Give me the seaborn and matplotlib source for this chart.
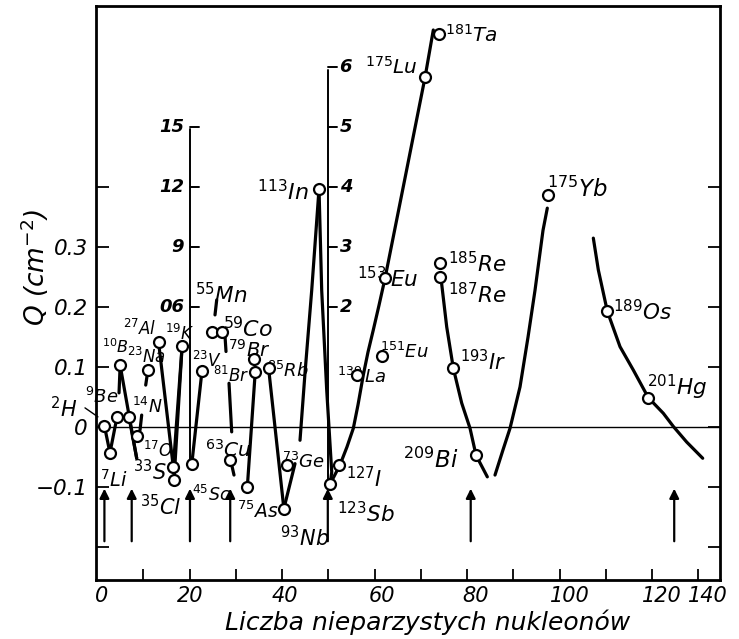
import matplotlib
matplotlib.use("Agg")
import matplotlib.pyplot as plt
import seaborn as sns
import pandas as pd
import numpy as np

# isotopes drawn as open circles: mass number, symbol, odd nucleons (as drawn), Q
iso_mass = ["2", "7", "9", "10", "14", "17", "23", "27", "33", "35", "19", "45", "23",
            "55", "59", "63", "75", "79", "81", "85", "73", "93", "113", "123", "127",
            "139", "151", "153", "175", "181", "185", "187", "193", "209", "175", "189", "201"]
iso_sym = ["H", "Li", "Be", "B", "N", "O", "Na", "Al", "S", "Cl", "K", "Sc", "V",
           "Mn", "Co", "Cu", "As", "Br", "Br", "Rb", "Ge", "Nb", "In", "Sb", "I",
           "La", "Eu", "Eu", "Lu", "Ta", "Re", "Re", "Ir", "Bi", "Yb", "Os", "Hg"]
iso_n = [1.6, 2.8, 4.3, 5.0, 6.9, 8.6, 11.0, 13.3, 16.5, 16.65, 18.4, 20.5, 22.7,
         24.8, 27.0, 28.8, 32.5, 34.05, 34.2, 37.1, 41.0, 40.4, 48.0, 50.4, 52.4,
         56.3, 61.6, 62.3, 70.9, 74.0, 74.2, 74.2, 77.0, 82.0, 97.5, 110.3, 119.1]
iso_q = [0.002, -0.043, 0.016, 0.103, 0.017, -0.015, 0.095, 0.142, -0.067, -0.088, 0.135, -0.061, 0.094,
         0.159, 0.159, -0.055, -0.100, 0.113, 0.091, 0.098, -0.063, -0.136, 0.397, -0.095, -0.063,
         0.086, 0.118, 0.248, 0.583, 0.655, 0.273, 0.250, 0.098, -0.047, 0.387, 0.193, 0.048]

# hand-drawn connecting curves (odd nucleons, Q)
curves = {
    "H-Li-Be": ([1.6, 2.8, 4.3], [0.002, -0.043, 0.016]),
    "B-stub": ([5.0, 4.76], [0.103, 0.057]),
    "B-O": ([5.0, 8.58], [0.103, -0.052]),
    "N-O": ([6.9, 8.58], [0.017, -0.052]),
    "N-stub": ([9.66, 9.30], [0.020, -0.005]),
    "Na-stub": ([11.0, 10.53], [0.095, 0.070]),
    "Al-S": ([13.3, 16.5], [0.142, -0.067]),
    "K-S": ([18.4, 16.5], [0.135, -0.067]),
    "K-Cl": ([18.4, 16.65], [0.135, -0.088]),
    "V-Sc": ([22.7, 20.5], [0.094, -0.061]),
    "Mn-stub": ([25.88, 25.51], [0.212, 0.187]),
    "Co-stub": ([27.68, 27.89], [0.151, 0.126]),
    "Br-stub": ([28.54, 29.12], [0.073, -0.008]),
    "Cu-stub": ([29.12, 29.62], [-0.063, -0.080]),
    "Br-As": ([34.2, 32.5], [0.091, -0.100]),
    "Rb-Nb": ([37.1, 40.4], [0.098, -0.136]),
    "Nb-Ge": ([40.4, 42.81], [-0.136, -0.061]),
    "In-left": ([48.0, 46.42, 44.97, 43.89], [0.397, 0.228, 0.090, -0.022]),
    "In-right": ([48.0, 48.58, 49.66, 50.75, 50.4], [0.397, 0.228, 0.062, -0.075, -0.095]),
    "Sb-Ta": ([50.4, 52.54, 54.05, 55.42, 56.43, 57.58, 58.59, 59.74, 60.97, 62.27, 66.59, 70.92, 72.71],
              [-0.095, -0.063, -0.033, -0.002, 0.037, 0.087, 0.125, 0.162, 0.203, 0.248, 0.415, 0.583, 0.662]),
    "Re-Bi": ([74.38, 75.61, 77.04, 78.85, 80.65, 81.95, 84.39],
              [0.248, 0.167, 0.098, 0.040, -0.002, -0.047, -0.083]),
    "Yb": ([86.05, 87.78, 89.30, 91.46, 93.19, 94.70, 96.43, 97.36],
           [-0.080, -0.038, -0.002, 0.067, 0.150, 0.228, 0.328, 0.365]),
    "Os-Hg": ([107.31, 108.39, 110.34, 113.08, 115.96, 119.20, 122.44, 124.61, 127.50, 130.96],
              [0.315, 0.262, 0.193, 0.134, 0.095, 0.049, 0.023, 0.001, -0.025, -0.052]),
}

# auxiliary scales drawn inside the plot
inset1_x, inset1_bottom, inset1_top = 20.1, -0.061, 0.497
inset1_levels = [0.2, 0.3, 0.4, 0.5]
inset1_labels = ["06", "9", "12", "15"]
inset2_x, inset2_bottom, inset2_top = 49.95, -0.095, 0.595
inset2_levels = [0.2, 0.3, 0.4, 0.5, 0.6]
inset2_labels = ["2", "3", "4", "5", "6"]

# magic numbers (arrows)
magic_n = [1.6, 7.5, 20.1, 28.8, 49.9, 80.8, 124.8]

xtick_pos = [0.9, 20.1, 40.6, 61.6, 81.9, 102.3, 122.2, 132.1]
xtick_lab = ["0", "20", "40", "60", "80", "100", "120", "140"]
ytick_vals = [-0.1, 0, 0.1, 0.2, 0.3]
ytick_lab = ["\u22120.1", "0", "0.1", "0.2", "0.3"]

# label placement (pixel offsets of text left/baseline from the circle) and size
lab_off = [(-54, 9), (-10, -34), (-32, 14), (-18, 12), (3, 4), (6, -21), (-21, 7), (-36, 7),
           (-40, -13), (-34, -35), (-17, 6), (0, -37), (-10, 4), (-17, 29), (1, -5), (-25, 3),
           (-10, -31), (-26, 2), (-42, -10), (-2, -9), (-5, -3), (-4, -38), (-62, -11), (7, -38),
           (7, -22), (-20, -8), (-2, -2), (-28, -9), (-60, 4), (6, -8), (8, -9), (8, -26),
           (7, -2), (-73, -13), (-1, -2), (6, -9), (-1, 3)]
lab_size = [15, 14, 13, 11.5, 12.5, 12, 12, 12, 15, 15, 12, 12.5, 12,
            15.5, 16, 14.5, 13.5, 14, 12, 13, 13, 15, 16, 15.5, 15,
            13, 13, 15.5, 14.5, 14.5, 15.5, 15.5, 15, 16.5, 16.5, 15.5, 15.5]

sns.set_theme(style="white")
plt.rcParams["font.family"] = ["DejaVu Sans"]
plt.rcParams["mathtext.fontset"] = "dejavusans"
plt.rcParams["mathtext.default"] = "it"
for key in ("text.color", "axes.labelcolor", "xtick.color", "ytick.color"):
    plt.rcParams[key] = "black"

fig = plt.figure(figsize=(7.39, 6.39), dpi=100)
ax = fig.add_axes([0.1299, 0.0923, 0.8444, 0.8983])

rows = []
for name, (xs, ys) in curves.items():
    for xv, yv in zip(xs, ys):
        rows.append({"seg": name, "n": xv, "q": yv})
curve_df = pd.DataFrame(rows)
sns.lineplot(data=curve_df, x="n", y="q", units="seg", estimator=None, sort=False,
             color="black", lw=2.3, ax=ax, zorder=3)

# auxiliary scales
scale_df = pd.DataFrame({"n": [inset1_x, inset1_x, inset2_x, inset2_x],
                         "q": [inset1_bottom, inset1_top, inset2_bottom, inset2_top],
                         "seg": ["a", "a", "b", "b"]})
sns.lineplot(data=scale_df, x="n", y="q", units="seg", estimator=None, sort=False,
             color="black", lw=1.4, ax=ax, zorder=3)
for lev, lab in zip(inset1_levels, inset1_labels):
    ax.plot([inset1_x, inset1_x + 2.0], [lev, lev], color="black", lw=1.4)
    ax.text(inset1_x - 1.3, lev, lab, ha="right", va="center", fontsize=13,
            fontstyle="italic", fontweight="bold")
for lev, lab in zip(inset2_levels, inset2_labels):
    ax.plot([inset2_x, inset2_x + 2.0], [lev, lev], color="black", lw=1.4)
    ax.text(inset2_x + 2.5, lev, lab, ha="left", va="center", fontsize=13,
            fontstyle="italic", fontweight="bold")

ax.axhline(0, color="black", lw=1.0, zorder=1)

iso_df = pd.DataFrame({"n": iso_n, "q": iso_q})
sns.scatterplot(data=iso_df, x="n", y="q", s=62, color="white", edgecolor="black",
                linewidth=1.6, ax=ax, zorder=5)

for m, s, xv, yv, (dx, dy), fs in zip(iso_mass, iso_sym, iso_n, iso_q, lab_off, lab_size):
    gap = r"\," if s in ("La", "Eu") and m in ("139", "153") else ""
    txt = r"$^{%s}%s\mathit{%s}$" % (m, gap, s)
    ax.annotate(txt, (xv, yv), xytext=(dx, dy), textcoords="offset pixels",
                ha="left", va="baseline", fontsize=fs, zorder=4, annotation_clip=False)

# leader line for 2H
ax.annotate("", xy=(0.2, 0.017), xytext=(-2.6, 0.032),
            arrowprops=dict(arrowstyle="-", color="black", lw=1.0, shrinkA=0, shrinkB=0),
            annotation_clip=False)

for xm in magic_n:
    ax.annotate("", xy=(xm, -0.098), xytext=(xm, -0.195),
                arrowprops=dict(arrowstyle="-|>", color="black", lw=1.6, mutation_scale=14))

ax.set_xlim(-0.22, 134.7)
ax.set_ylim(-0.255, 0.702)
ax.set_xticks(xtick_pos)
ax.set_xticklabels(xtick_lab, fontsize=15, fontstyle="italic")
ax.set_xticks(np.arange(10, 135, 10), minor=True)
ax.set_yticks(ytick_vals)
ax.set_yticklabels(ytick_lab, fontsize=15.5, fontstyle="italic")
ax.set_yticks([-0.2, 0.4], minor=True)
ax.tick_params(axis="x", which="major", length=0, pad=4)
ax.tick_params(axis="x", which="minor", direction="in", length=8, width=1.3, bottom=True)
ax.tick_params(axis="y", which="both", direction="in", length=9, width=1.3,
               left=True, right=True, pad=6)
for sp in ax.spines.values():
    sp.set_linewidth(2.0)
    sp.set_color("black")

ax.set_xlabel("Liczba nieparzystych nukleonów", fontsize=18, fontstyle="italic")
ax.xaxis.set_label_coords(0.532, -0.052)
ax.set_ylabel(r"Q (cm$^{-2}$)", fontsize=19, fontstyle="italic")
ax.yaxis.set_label_coords(-0.072, 0.545)

fig.savefig("out.png", dpi=100)
